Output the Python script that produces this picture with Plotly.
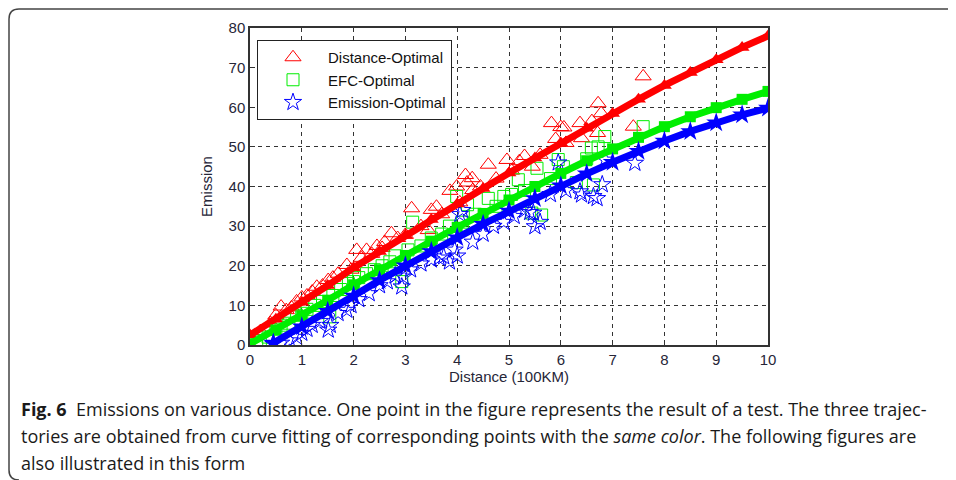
import plotly.graph_objects as go

# fitted curves (x step 0.5)
fit_x = [0, 0.5, 1, 1.5, 2, 2.5, 3, 3.5, 4, 4.5, 5, 5.5, 6, 6.5, 7, 7.5, 8, 8.5, 9, 9.5, 10]
fit_dist = [2.5, 6.5, 10.8, 15, 19.5, 23.6, 27.7, 31.7, 35.6, 39.5, 43.4, 47.2, 51, 54.7, 58.4, 62, 65.5, 68.8, 72, 75.1, 78]
fit_efc = [0.3, 3.8, 7.4, 11.3, 15.2, 19, 22.6, 26.2, 29.7, 33.2, 36.6, 40, 43.3, 46.5, 49.5, 52.4, 55.1, 57.6, 59.9, 62, 64]
fit_emi_x = [0.45, 1, 1.5, 2, 2.5, 3, 3.5, 4, 4.5, 5, 5.5, 6, 6.5, 7, 7.5, 8, 8.5, 9, 9.5, 10]
fit_emi = [0.5, 4.6, 8.5, 12.4, 16.3, 20, 23.6, 27.1, 30.5, 33.8, 37, 40.2, 43.2, 46.1, 48.9, 51.5, 53.9, 56.1, 58.1, 59.8]

# test points
dist_x = [0.2, 0.4, 0.5, 0.6, 0.7, 0.8, 0.9, 1.0, 1.1, 1.2, 1.29, 1.4, 1.51, 1.6, 1.7, 1.87, 1.95,
          2.06, 2.15, 2.25, 2.35, 2.45, 2.55, 2.6, 2.73, 2.85, 3.0, 3.12, 3.3, 3.44, 3.5, 3.6, 3.7,
          3.86, 3.99, 4.05, 4.16, 4.19, 4.29, 4.3, 4.45, 4.6, 4.75, 4.96, 5.05, 5.2, 5.3, 5.45, 5.6,
          5.82, 5.9, 6.0, 6.06, 6.1, 6.37, 6.4, 6.6, 6.71, 6.72, 6.78, 7.4, 7.59]
dist_y = [3.5, 5.5, 7.5, 9.7, 8.8, 9.5, 11, 12, 12.5, 13.5, 14.7, 15, 16.4, 17, 18, 20.2, 19,
          24, 22, 24, 23, 25, 24.5, 26, 28.2, 27, 27.8, 34.5, 30, 29, 34.1, 34.9, 33,
          38.9, 40, 36, 42.9, 41, 42.1, 39.1, 40, 45.5, 42, 46.7, 44, 46.4, 47.7, 45, 48,
          56, 52, 55, 54.9, 51, 56, 52.2, 56.5, 53.5, 61, 58.5, 55.1, 67.8]

efc_x = [0.13, 0.2, 0.35, 0.5, 0.6, 0.75, 0.9, 1.0, 1.1, 1.25, 1.4, 1.54, 1.6, 1.75, 1.9, 2.0,
         2.1, 2.25, 2.4, 2.55, 2.7, 2.8, 2.93, 3.05, 3.14, 3.3, 3.5, 3.7, 3.85, 3.99, 4.1, 4.2,
         4.35, 4.6, 4.75, 4.9, 5.05, 5.18, 5.3, 5.44, 5.54, 5.63, 5.8, 5.95, 6.05, 6.3, 6.5,
         6.59, 6.63, 6.72, 6.85, 7.59]
efc_y = [0, 1, 2, 4, 5, 5.5, 7.5, 8, 9, 10, 11, 7.1, 12.5, 14, 15.5, 16,
         17, 18, 19, 20, 21, 22.5, 16, 24, 31, 25, 27, 28, 30, 37.5, 31, 35.4,
         33, 37, 35, 37.5, 38, 41.7, 39, 33.3, 44.6, 32.8, 42, 46.8, 45, 41, 47,
         49.7, 40.4, 50, 52.6, 55.1]

emi_x = [0.45, 0.6, 0.77, 0.9, 1.0, 1.1, 1.2, 1.35, 1.51, 1.55, 1.7, 1.87, 1.95, 2.1, 2.3, 2.5,
         2.65, 2.8, 2.93, 2.96, 3.1, 3.3, 3.5, 3.65, 3.74, 3.85, 3.95, 4.0, 4.05, 4.1, 4.3, 4.5,
         4.7, 4.9, 5.1, 5.3, 5.4, 5.47, 5.5, 5.6, 5.8, 5.95, 6.1, 6.37, 6.4, 6.63, 6.7, 6.8,
         6.86, 7.43]
emi_y = [0.3, 0.5, 1.1, 2, 3, 4, 5, 6, 3.8, 5, 8, 8.8, 10, 11.5, 13, 15,
         16, 17.5, 14.7, 17.2, 19, 20.5, 21.5, 22, 22.3, 21, 24, 22.5, 33, 34, 26, 28,
         30, 31, 32.5, 34, 33.5, 33.3, 29.9, 31, 38, 46, 39, 38.7, 37.9, 37.5, 37, 40.5,
         46.7, 45.9]

RED = "#ff0000"
GREEN = "#00ee00"
BLUE = "#0000ff"

fig = go.Figure()
fig.add_trace(go.Scatter(x=dist_x, y=dist_y, mode="markers", name="Distance-Optimal",
                         marker=dict(symbol="triangle-up-open", size=14, color=RED, line=dict(width=1))))
fig.add_trace(go.Scatter(x=efc_x, y=efc_y, mode="markers", name="EFC-Optimal",
                         marker=dict(symbol="square-open", size=12, color=GREEN, line=dict(width=1))))
fig.add_trace(go.Scatter(x=emi_x, y=emi_y, mode="markers", name="Emission-Optimal",
                         marker=dict(symbol="star-open", size=13, color=BLUE, line=dict(width=1))))

fig.add_trace(go.Scatter(x=fit_x, y=fit_dist, mode="lines+markers", showlegend=False,
                         line=dict(color=RED, width=7),
                         marker=dict(symbol="triangle-up", size=13, color=RED)))
fig.add_trace(go.Scatter(x=fit_x, y=fit_efc, mode="lines+markers", showlegend=False,
                         line=dict(color=GREEN, width=7),
                         marker=dict(symbol="square", size=11, color=GREEN)))
fig.add_trace(go.Scatter(x=fit_emi_x, y=fit_emi, mode="lines+markers", showlegend=False,
                         line=dict(color=BLUE, width=7),
                         marker=dict(symbol="star", size=15, color=BLUE)))

txt_col = "#262638"
axis_font = dict(family="Liberation Sans, Arial", size=15, color=txt_col)
title_font = dict(family="Liberation Sans, Arial", size=15, color=txt_col)
fig.update_xaxes(range=[0, 10], dtick=1, showline=True, mirror=True, linecolor="#333", linewidth=1.5,
                 showgrid=True, gridcolor="#333", griddash="4px,4px", gridwidth=1.3, zeroline=False,
                 ticks="inside", ticklen=5, tickcolor="#333", tickfont=axis_font,
                 title=dict(text="Distance (100KM)", font=title_font, standoff=4))
fig.update_yaxes(range=[0, 80], dtick=10, showline=True, mirror=True, linecolor="#333", linewidth=1.5,
                 showgrid=True, gridcolor="#333", griddash="4px,4px", gridwidth=1.3, zeroline=False,
                 ticks="inside", ticklen=5, tickcolor="#333", tickfont=axis_font,
                 title=dict(text="Emission", font=title_font, standoff=12))

# page body adds 8px, so everything sits 8px up/left of the reference pixels
PL, PR, PT, PB = 242, 760, 20, 337
pw, ph = PR - PL, PB - PT


def px_x(v):
    return (v - PL) / pw


def px_y(v):
    return (PB - v) / ph


# outer frame of the figure panel (rounded left corners)
xl, xr = px_x(1), px_x(960)
yt, yb = px_y(1), px_y(472)
rx, ry = 10 / pw, 10 / ph
frame = (f"M {xr},{yt} L {xl + rx},{yt} Q {xl},{yt} {xl},{yt - ry} "
         f"L {xl},{yb + ry} Q {xl},{yb} {xl + rx},{yb}")
fig.add_shape(type="path", path=frame, xref="paper", yref="paper",
              line=dict(color="#444", width=1.5))

cap_font = dict(family="Open Sans, Noto Sans", size=18, color="#1a1a1a")
captions = [
    "<b>Fig. 6</b>  Emissions on various distance. One point in the figure represents the result of a test. The three trajec-",
    "tories are obtained from curve fitting of corresponding points with the <i>same color</i>. The following figures are",
    "also illustrated in this form",
]
for i, txt in enumerate(captions):
    fig.add_annotation(text=txt, xref="paper", yref="paper", x=px_x(11),
                       y=px_y(401 + 27 * i), xanchor="left", yanchor="middle",
                       showarrow=False, font=cap_font)

fig.update_layout(
    width=956, height=480,
    margin=dict(l=PL, r=956 - PR, t=PT, b=480 - PB),
    paper_bgcolor="white", plot_bgcolor="white",
    legend=dict(x=px_x(249), y=px_y(32), xanchor="left", yanchor="top",
                bgcolor="white", bordercolor="#222", borderwidth=1,
                font=dict(family="Liberation Sans, Arial", size=15, color="#111"),
                tracegroupgap=0, itemwidth=60),
)

fig.write_html("out.html")
